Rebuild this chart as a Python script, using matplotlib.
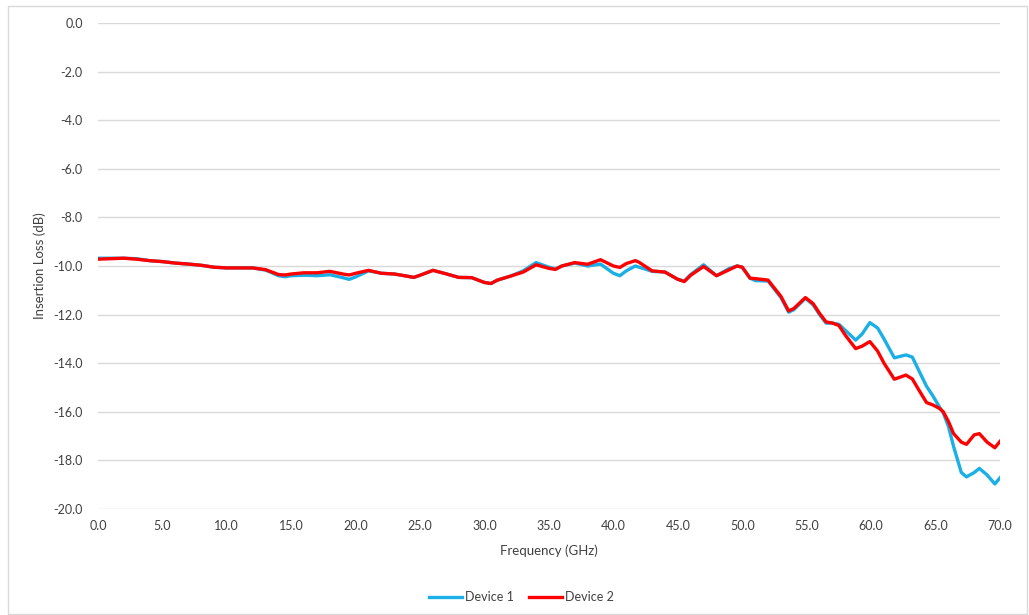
import matplotlib
matplotlib.use('Agg')
import numpy as np
from matplotlib import pyplot as plt
from matplotlib.patches import Rectangle

plt.rcParams['font.family'] = ['Lato', 'DejaVu Sans']
plt.rcParams['font.size'] = 9

# frequency points (GHz)
freq = [0, 1, 2, 3, 4, 5, 6, 7, 8, 9, 10, 11, 12, 13, 13.5, 14, 14.5, 15, 16, 17,
        18, 19, 19.5, 20, 21, 22, 23, 24, 24.5, 25, 26, 27, 28, 29, 30, 30.5, 31,
        32, 33, 34, 35, 35.5, 36, 37, 38, 39, 40, 40.5, 41, 41.7, 42, 43, 44, 45,
        45.5, 46, 47, 48, 49, 49.6, 50, 50.6, 51, 52, 53, 53.6, 54, 54.9, 55.5,
        56, 56.5, 57, 57.5, 58, 58.8, 59.3, 59.9, 60.5, 61, 61.8, 62.7, 63.2,
        63.7, 64.3, 64.8, 65.3, 65.6, 66, 66.4, 67, 67.4, 68, 68.4, 69, 69.6, 70]

# insertion loss (dB)
device1 = [-9.68, -9.68, -9.68, -9.70, -9.78, -9.82, -9.88, -9.92, -9.97, -10.05,
           -10.08, -10.08, -10.08, -10.17, -10.28, -10.40, -10.44, -10.40, -10.38,
           -10.40, -10.36, -10.48, -10.55, -10.45, -10.20, -10.30, -10.33, -10.42,
           -10.47, -10.38, -10.18, -10.32, -10.47, -10.48, -10.68, -10.72, -10.58,
           -10.42, -10.20, -9.86, -10.05, -10.12, -10.00, -9.88, -10.00, -9.92,
           -10.30, -10.40, -10.20, -10.00, -10.05, -10.22, -10.25, -10.55, -10.62,
           -10.35, -9.95, -10.40, -10.10, -10.00, -10.05, -10.50, -10.60, -10.62,
           -11.30, -11.90, -11.80, -11.33, -11.60, -12.00, -12.35, -12.35, -12.40,
           -12.65, -13.05, -12.80, -12.33, -12.55, -13.00, -13.78, -13.66, -13.75,
           -14.30, -14.95, -15.35, -15.80, -16.05, -16.60, -17.43, -18.50, -18.68,
           -18.50, -18.33, -18.60, -18.97, -18.72]

device2 = [-9.72, -9.70, -9.68, -9.72, -9.78, -9.82, -9.88, -9.92, -9.97, -10.05,
           -10.08, -10.08, -10.08, -10.15, -10.25, -10.35, -10.37, -10.33, -10.28,
           -10.28, -10.22, -10.33, -10.37, -10.30, -10.18, -10.30, -10.33, -10.42,
           -10.47, -10.38, -10.18, -10.32, -10.47, -10.48, -10.68, -10.72, -10.58,
           -10.42, -10.25, -9.95, -10.10, -10.14, -10.00, -9.86, -9.93, -9.74,
           -10.00, -10.06, -9.90, -9.78, -9.85, -10.20, -10.25, -10.55, -10.64,
           -10.38, -10.02, -10.40, -10.15, -10.00, -10.05, -10.50, -10.52, -10.58,
           -11.25, -11.85, -11.75, -11.30, -11.55, -11.95, -12.30, -12.35, -12.45,
           -12.85, -13.40, -13.30, -13.11, -13.50, -14.00, -14.66, -14.49, -14.65,
           -15.10, -15.62, -15.72, -15.86, -16.00, -16.40, -16.90, -17.25, -17.34,
           -16.95, -16.90, -17.25, -17.48, -17.22]

xticks = np.arange(0, 70.1, 5)
yticks = np.arange(-20, 0.1, 2)

fig = plt.figure(figsize=(10.29, 6.15), dpi=100)
ax = fig.add_axes([0.0952, 0.1724, 0.8766, 0.7902])

ax.plot(freq, device1, color='#1AAFE6', lw=2.4, solid_joinstyle='round', label='Device 1')
ax.plot(freq, device2, color='#FF0000', lw=2.4, solid_joinstyle='round', label='Device 2')

ax.set_xlim(0, 70)
ax.set_ylim(-20, 0)
ax.set_xticks(xticks)
ax.set_yticks(yticks)
ax.set_xticklabels(['%.1f' % v for v in xticks])
ax.set_yticklabels(['%.1f' % v for v in yticks])
ax.yaxis.grid(True, color='#d9d9d9', lw=1)
ax.set_axisbelow(True)
for s in ax.spines.values():
    s.set_visible(False)
ax.tick_params(length=0, colors='#404040', labelsize=9)
ax.tick_params(axis='y', pad=11)
ax.tick_params(axis='x', pad=8)
ax.set_xlabel('Frequency (GHz)', color='#404040', fontsize=9.5, labelpad=9)
ax.set_ylabel('Insertion Loss (dB)', color='#404040', fontsize=9.5, labelpad=5)

fig.legend(loc='center', bbox_to_anchor=(0.507, 0.029), ncol=2, frameon=False,
           handlelength=2.6, columnspacing=1.2, handletextpad=0.3,
           labelcolor='#404040', fontsize=9)

fig.patches.append(Rectangle((8/1029, 1/615), 1019/1029, 608/615,
                             transform=fig.transFigure, fill=False,
                             edgecolor='#d9d9d9', lw=1))

plt.savefig('out.png', dpi=100)
